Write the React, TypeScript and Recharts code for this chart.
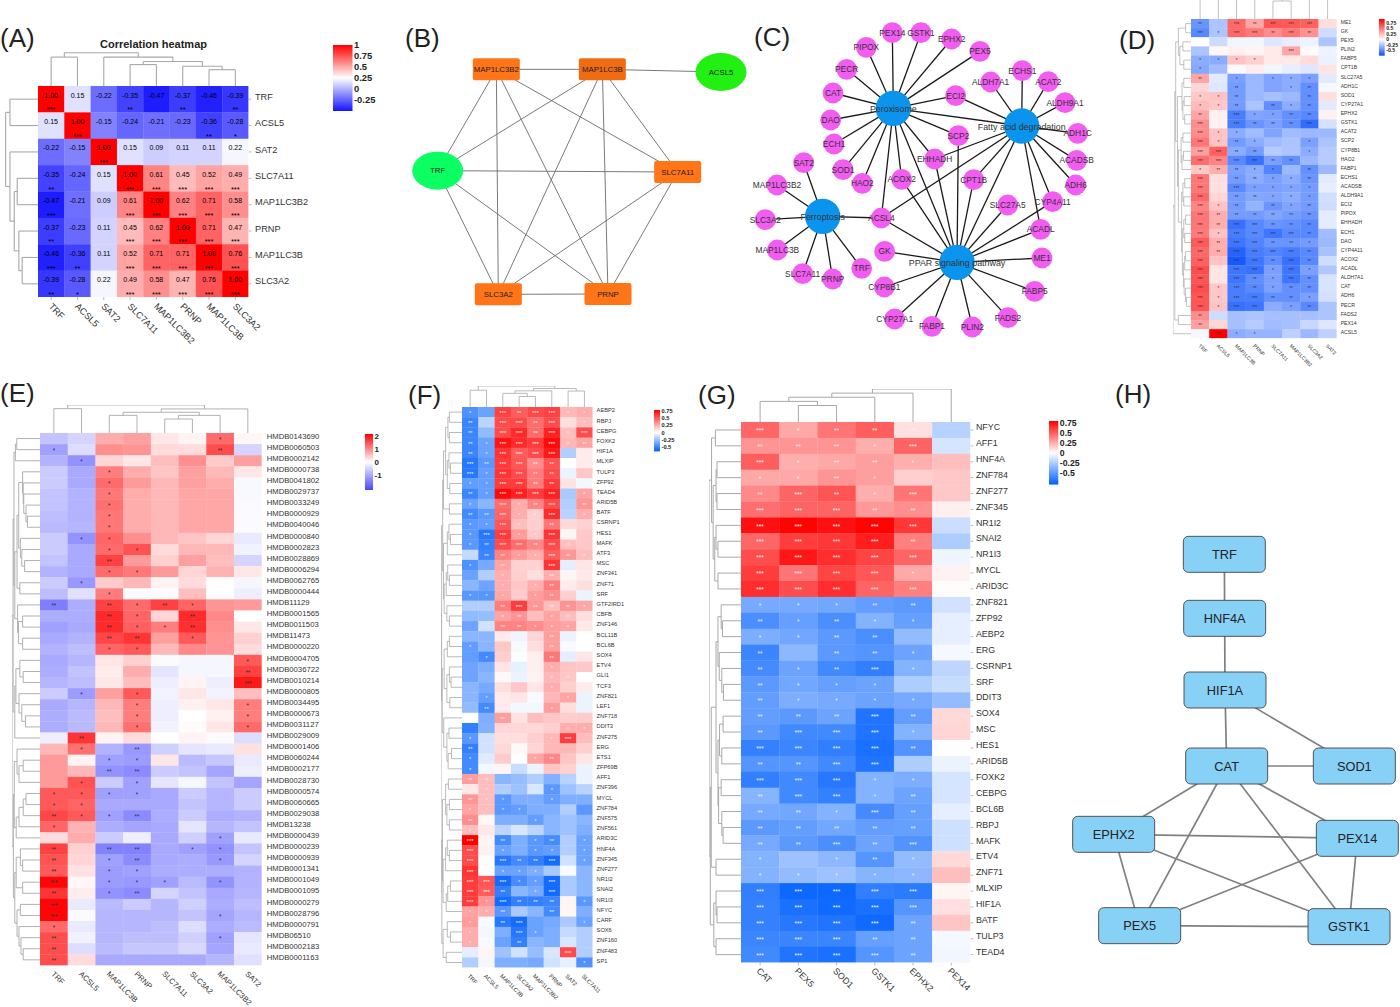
import React from "react";
import {
  ReferenceArea,
  ReferenceLine,
  Scatter,
  ScatterChart,
  XAxis,
  YAxis,
} from "recharts";

// (A) correlation heatmap
const aNames = ["TRF", "ACSL5", "SAT2", "SLC7A11", "MAP1LC3B2", "PRNP", "MAP1LC3B", "SLC3A2"];
const aValues = [
  [1, 0.15, -0.22, -0.35, -0.47, -0.37, -0.46, -0.39],
  [0.15, 1, -0.15, -0.24, -0.21, -0.23, -0.36, -0.28],
  [-0.22, -0.15, 1, 0.15, 0.09, 0.11, 0.11, 0.22],
  [-0.35, -0.24, 0.15, 1, 0.61, 0.45, 0.52, 0.49],
  [-0.47, -0.21, 0.09, 0.61, 1, 0.62, 0.71, 0.58],
  [-0.37, -0.23, 0.11, 0.45, 0.62, 1, 0.71, 0.47],
  [-0.46, -0.36, 0.11, 0.52, 0.71, 0.71, 1, 0.76],
  [-0.39, -0.28, 0.22, 0.49, 0.58, 0.47, 0.76, 1],
];
const aStars = ["30020202", "03000021", "00300000", "20033333", "30033333", "20033333", "32033333", "21033333"];
const aTree = [0.98, [0.85, 0, 1], [0.85, 2, [0.72, [0.63, 3, 4], [0.58, 5, [0.48, 6, 7]]]]];

// (D) ferroptosis genes vs fatty acid genes
const dCols = ["TRF", "ACSL5", "MAP1LC3B", "PRNP", "SLC7A11", "MAP1LC3B2", "SLC3A2", "SAT2"];
const dRows = ["ME1", "GK", "PEX5", "PLIN2", "FABP5", "CPT1B", "SLC27A5", "ADH1C", "SOD1", "CYP27A1", "EPHX2", "GSTK1", "ACAT2", "SCP2", "CYP8B1", "HAO2", "FABP1", "ECHS1", "ACADSB", "ALDH9A1", "ECI2", "PIPOX", "EHHADH", "ECH1", "DAO", "CYP4A11", "ACOX2", "ACADL", "ALDH7A1", "CAT", "ADH6", "PECR", "FADS2", "PEX14", "ACSL5"];
const dValues = [
  [-0.45, -0.25, 0.55, 0.33, 0.62, 0.6, 0.58, 0.12],
  [-0.5, -0.25, 0.55, 0.5, 0.42, 0.5, 0.4, -0.15],
  [0, -0.15, -0.04, -0.04, -0.1, -0.07, -0.05, -0.25],
  [-0.25, 0.03, 0.06, 0.04, 0.08, 0.33, 0.02, -0.05],
  [-0.35, -0.35, 0.22, 0.17, 0.08, 0.08, 0.13, -0.06],
  [-0.37, -0.28, 0.02, 0.07, -0.04, -0.07, -0.1, 0.1],
  [0.33, -0.09, -0.4, -0.3, -0.38, -0.35, -0.4, -0.09],
  [0.15, -0.1, -0.42, -0.3, -0.38, -0.35, -0.47, -0.03],
  [0.2, 0.22, -0.42, -0.3, -0.27, -0.3, -0.47, 0.12],
  [0.25, 0.2, -0.42, -0.25, -0.48, -0.35, -0.47, -0.09],
  [0.33, 0.06, -0.55, -0.38, -0.4, -0.47, -0.5, 0.05],
  [0.42, 0.05, -0.55, -0.45, -0.4, -0.47, -0.62, -0.13],
  [0.42, 0.22, -0.35, -0.28, -0.38, -0.28, -0.3, -0.3],
  [0.5, 0.22, -0.42, -0.35, -0.28, -0.25, -0.4, -0.25],
  [0.35, 0.58, -0.35, -0.42, -0.22, -0.25, -0.35, -0.22],
  [0.53, 0.45, -0.5, -0.6, -0.4, -0.47, -0.3, -0.22],
  [0.2, 0.3, -0.4, -0.35, -0.52, -0.3, -0.47, -0.3],
  [0.5, 0.12, -0.42, -0.35, -0.4, -0.35, -0.45, -0.09],
  [0.5, 0.12, -0.5, -0.4, -0.4, -0.38, -0.42, -0.07],
  [0.55, 0.15, -0.42, -0.37, -0.38, -0.35, -0.42, -0.14],
  [0.45, 0.22, -0.42, -0.32, -0.45, -0.38, -0.42, -0.15],
  [0.5, 0.3, -0.42, -0.42, -0.38, -0.42, -0.45, -0.08],
  [0.5, 0.3, -0.6, -0.5, -0.45, -0.47, -0.5, -0.08],
  [0.48, 0.22, -0.55, -0.5, -0.58, -0.5, -0.5, -0.28],
  [0.6, 0.3, -0.58, -0.52, -0.45, -0.45, -0.42, -0.3],
  [0.55, 0.3, -0.66, -0.55, -0.52, -0.55, -0.5, -0.26],
  [0.58, 0.22, -0.7, -0.58, -0.48, -0.6, -0.5, -0.15],
  [0.65, 0.1, -0.58, -0.6, -0.4, -0.58, -0.4, -0.24],
  [0.62, 0.1, -0.58, -0.48, -0.4, -0.58, -0.47, -0.12],
  [0.65, 0.2, -0.55, -0.5, -0.4, -0.47, -0.47, -0.12],
  [0.62, 0.2, -0.55, -0.55, -0.47, -0.47, -0.4, -0.13],
  [0.62, 0.22, -0.6, -0.58, -0.35, -0.4, -0.5, -0.25],
  [0.42, -0.15, -0.27, -0.25, -0.27, -0.27, -0.27, -0.25],
  [0.35, 0.15, -0.27, -0.22, -0.28, -0.27, -0.17, -0.1],
  [-0.03, 0.93, -0.35, -0.32, -0.32, -0.2, -0.3, -0.2],
];
const dStars = ["20323330", "31332320", "00000000", "00000300", "11110000", "10000000", "20101110", "00200120", "11200020", "11202120", "20311220", "30322230", "31100000", "31210010", "33220010", "33332200", "12211020", "30221120", "30311110", "30221110", "31202120", "32222220", "32332220", "31333320", "32332210", "32333320", "30332320", "30331310", "30321320", "31321220", "31332210", "31330120", "20000000", "20000000", "03110000"];
const dColTree = [1, [0.9, 0, 1], [1, [0.95, [0.9, 2, 3], [0.7, [0.45, 4, 5], 6]], 7]];
const dRowTree = [1, [0.9, [0.85, [0.7, [0.3, 0, 1], [0.62, [0.45, 2, 3], [0.4, 4, 5]]], [0.75, [0.5, [0.4, 6, 7], [0.45, [0.38, 8, 9], [0.35, 10, 11]]], [0.7, [0.55, [0.45, 12, 13], [0.5, [0.42, 14, 15], 16]], [0.52, [0.45, [0.35, 17, 18], [0.4, 19, 20]], [0.48, [0.4, [0.3, 21, 22], [0.35, 23, 24]], [0.42, [0.35, [0.3, 25, 26], 27], [0.38, 28, [0.3, 29, [0.25, 30, 31]]]]]]]]], [0.7, 32, 33]], 34];

// (E) ferroptosis genes vs metabolites
const eCols = ["TRF", "ACSL5", "MAP1LC3B", "PRNP", "SLC7A11", "SLC3A2", "MAP1LC3B2", "SAT2"];
const eRows = ["HMDB0143690", "HMDB0060503", "HMDB0002142", "HMDB0000738", "HMDB0041802", "HMDB0029737", "HMDB0033249", "HMDB0000929", "HMDB0040046", "HMDB0000840", "HMDB0002823", "HMDB0028869", "HMDB0006294", "HMDB0062765", "HMDB0000444", "HMDB11129", "HMDB0001565", "HMDB0011503", "HMDB11473", "HMDB0000220", "HMDB0004705", "HMDB0036722", "HMDB0010214", "HMDB0000805", "HMDB0034495", "HMDB0000673", "HMDB0031127", "HMDB0029009", "HMDB0001406", "HMDB0060244", "HMDB0002177", "HMDB0028730", "HMDB0000574", "HMDB0060665", "HMDB0029038", "HMDB13238", "HMDB0000439", "HMDB0000239", "HMDB0000939", "HMDB0001341", "HMDB0001049", "HMDB0001095", "HMDB0000279", "HMDB0028796", "HMDB0000791", "HMDB06510", "HMDB0002183", "HMDB0001163"];
const eValues = [
  [-0.7, -0.5, 0.7, 0.8, 0.2, 0.1, 1.25, 0.08],
  [-1.1, -0.4, 0.95, 0.9, 0.3, 0.3, 1.5, -0.5],
  [-0.9, -1.25, 0.35, 0.2, 0.55, 0.95, 0.45, 0.8],
  [-0.6, -1, 1.1, 0.7, 0.5, 0.8, 0.6, 0.2],
  [-0.6, -1, 1.25, 0.85, 0.6, 0.8, 0.7, -0.08],
  [-0.7, -0.9, 1.15, 0.7, 0.6, 0.75, 0.75, -0.08],
  [-0.7, -0.9, 1.2, 0.7, 0.6, 0.75, 0.75, -0.07],
  [-0.75, -0.9, 1.15, 0.7, 0.6, 0.75, 0.75, -0.05],
  [-0.8, -0.85, 1.15, 0.7, 0.6, 0.75, 0.75, -0.05],
  [-0.6, -1.25, 1.3, 0.95, 0.6, 0.5, 0.35, -0.25],
  [-0.6, -1, 1.25, 1.45, 0.3, 0.6, 0.6, -0.15],
  [-0.7, -1, 1.6, 0.85, 0.4, 0.8, 0.55, -0.5],
  [-0.9, -1, 1.25, 1.15, 0.85, 0.35, 0.65, 0.2],
  [-0.6, -1.2, 0.45, 0.6, 0.1, 0.3, 0, -0.1],
  [-0.75, -0.35, 1.1, -0.05, -0.03, 0.55, 0, -0.2],
  [-1.5, -0.95, 1.6, 1.25, 1.6, 1.3, 0.9, 0.85],
  [-0.95, -0.95, 1.8, 1.3, 0.35, 1.8, 1, 0],
  [-1.1, -1, 1.8, 1.35, 1.1, 1.75, 0.95, 0.2],
  [-1, -0.9, 1.55, 1.7, 0.8, 1.4, 0.9, 0.4],
  [-0.9, -0.75, 1.3, 1.4, 0.6, 1, 0.9, 0.3],
  [-1, -0.85, 0.2, 0.4, -0.05, -0.1, -0.1, 1.4],
  [-0.95, -0.7, 0.15, 0.7, -0.3, -0.1, -0.1, 1.6],
  [-0.85, -0.75, 0.2, 0.55, -0.2, 0.1, -0.2, 1.95],
  [-0.6, -1.15, 0.8, 1.4, -0.15, 0.2, -0.15, 0.55],
  [-1, -0.85, 0.6, 1.1, -0.2, 0.12, 0.2, 1.1],
  [-0.95, -0.8, 0.55, 1.1, -0.2, 0, 0.12, 1.1],
  [-0.95, -0.8, 0.6, 1.2, -0.15, 0.03, 0.2, 1.25],
  [-0.2, 1.7, 0.1, 0.3, 0, 0.1, -0.05, -0.4],
  [0.6, 1.2, -0.9, -1.2, -0.55, -0.3, -0.25, 0.25],
  [0.85, 0.1, -1.1, -1.15, 0.2, -0.8, -0.65, -0.25],
  [0.85, 0.6, -1.25, -1.35, -0.6, -0.7, -1.05, -0.2],
  [0.85, 1.45, -0.6, -1.1, -0.3, -0.1, -0.7, -1.05],
  [1.4, 1.4, -1.1, -1.1, -1, -0.6, -0.85, -0.6],
  [1.4, 1.3, -1, -1, -1, -0.7, -0.85, -0.6],
  [1.55, 1.4, -1.1, -1.35, -0.95, -0.6, -0.95, -0.9],
  [1.3, 0.65, -0.95, -1.05, -1, -0.3, -0.85, -0.7],
  [0.3, 0.7, -0.6, -0.2, -1, -0.55, -1.1, -0.25],
  [1.6, 0.4, -1.45, -1.45, -1, -1.1, -1.25, -0.7],
  [1.45, 0.35, -1.1, -1.35, -1, -0.95, -1.2, -0.5],
  [1.4, 0.25, -1.15, -1.1, -0.95, -0.95, -0.95, -0.9],
  [2.1, 0.07, -1.15, -1.2, -1.1, -0.8, -1.25, -0.9],
  [1.7, 0.15, -1.25, -1.35, -0.5, -0.7, -1, -0.85],
  [2.1, -0.25, -0.8, -0.6, -0.85, -0.55, -0.95, -0.75],
  [2.1, -0.05, -0.85, -0.85, -0.85, -0.7, -1.05, -0.85],
  [1.25, -0.25, -0.85, -0.85, -0.75, -0.4, -0.95, -0.8],
  [1.5, -0.15, -0.85, -0.75, -0.75, -0.55, -1.1, -0.3],
  [1.5, -0.4, -0.8, -0.65, -0.65, -0.45, -1.05, -0.25],
  [1.5, 0.3, -1, -1, -1, -1, -0.85, -0.35],
];
const eStars = ["00000010", "10000020", "01000000", "00100000", "00100000", "00100000", "00100000", "00100000", "00100000", "01100000", "00110000", "00200000", "00110000", "01000000", "00100000", "20212100", "00210200", "00211200", "00220100", "00110000", "00000001", "00000002", "00000003", "01010000", "00010001", "00010001", "00010001", "02000000", "01020000", "00110000", "00220000", "01010000", "11110000", "11000000", "21120000", "10000000", "00000010", "20220110", "20120010", "20110000", "30111010", "20120000", "30000000", "30000010", "10000000", "20000010", "20000000", "20000000"];
const eColTree = [1, [0.87, 0, 1], [0.86, [0.74, [0.63, 2, 3], [0.63, [0.5, 4, 5], 6]], 7]];
const eRowTree = [1, [0.96, [0.93, [0.88, [0.83, 0, 1], 2], [0.9, [0.82, [0.76, [0.62, 3, [0.6, 4, [0.58, 5, [0.5, 6, [0.45, 7, 8]]]]], [0.7, 9, [0.65, 10, [0.55, 11, 12]]]], [0.72, 13, 14]], [0.8, 15, [0.77, [0.62, 16, 17], [0.62, 18, 19]]]]], [0.9, [0.86, [0.72, 20, [0.6, 21, 22]], [0.75, 23, [0.65, 24, [0.52, 25, 26]]]], 27]], [0.95, [0.92, [0.82, 28, [0.75, [0.6, 29, 30], 31]], [0.85, [0.75, [0.6, [0.5, 32, 33], 34], 35], 36]], [0.9, [0.85, [0.7, 37, [0.62, 38, 39]], [0.62, 40, 41]], [0.82, [0.7, 42, 43], [0.75, 44, [0.68, 45, [0.6, 46, 47]]]]]]];

// (F) ferroptosis genes vs transcription factors
const fCols = ["TRF", "ACSL5", "MAP1LC3B", "SLC3A2", "MAP1LC3B2", "PRNP", "SAT2", "SLC7A11"];
const fRows = ["AEBP2", "RBPJ", "CEBPG", "FOXK2", "HIF1A", "MLXIP", "TULP3", "ZFP92", "TEAD4", "ARID5B", "BATF", "CSRNP1", "HES1", "MAFK", "ATF3", "MSC", "ZNF341", "ZNF71", "SRF", "GTF2IRD1", "CBFB", "ZNF146", "BCL11B", "BCL6B", "SOX4", "ETV4", "GLI1", "TCF3", "ZNF821", "LEF1", "ZNF718", "DDIT3", "ZNF275", "ERG", "ETS1", "ZFP69B", "AFF1", "ZNF396", "MYCL", "ZNF784", "ZNF575", "ZNF561", "ARID3C", "HNF4A", "ZNF345", "ZNF277", "NR1I2", "SNAI2", "NR1I3", "NFYC", "CARF", "SOX6", "ZNF160", "ZNF483", "SP1"];
const fValues = [
  [-0.45, -0.38, 0.58, 0.5, 0.56, 0.58, 0.22, 0.25],
  [-0.5, -0.17, 0.55, 0.55, 0.45, 0.55, 0.1, 0.2],
  [-0.5, -0.28, 0.55, 0.65, 0.45, 0.68, 0.2, 0.55],
  [-0.5, -0.38, 0.72, 0.65, 0.6, 0.75, 0.22, 0.28],
  [-0.5, -0.38, 0.62, 0.5, 0.55, 0.7, -0.2, 0.06],
  [-0.55, -0.42, 0.6, 0.52, 0.35, 0.53, 0, 0.06],
  [-0.55, -0.4, 0.62, 0.55, 0.4, 0.55, -0.05, 0.17],
  [-0.4, -0.4, 0.6, 0.6, 0.4, 0.6, 0.09, -0.03],
  [-0.5, -0.4, 0.75, 0.68, 0.6, 0.68, -0.22, 0.28],
  [-0.38, -0.3, 0.45, 0.25, 0.38, 0.55, -0.2, 0.32],
  [-0.48, -0.42, 0.47, 0.25, 0.15, 0.65, -0.18, 0.25],
  [-0.42, -0.4, 0.52, 0.2, 0.15, 0.42, 0.12, 0.14],
  [-0.42, -0.55, 0.6, 0.3, 0.17, 0.62, 0.03, 0.17],
  [-0.42, -0.52, 0.55, 0.45, 0.37, 0.55, 0.2, 0.17],
  [-0.15, -0.5, 0.38, 0.3, 0.25, 0.5, 0.32, 0.2],
  [-0.45, -0.35, 0.28, 0.14, 0.14, 0.62, -0.07, 0.08],
  [-0.38, -0.2, 0.25, 0.15, 0.1, 0.25, 0.03, 0.07],
  [-0.3, -0.37, 0.25, 0.17, 0.25, 0.4, 0.06, 0.1],
  [-0.42, -0.43, 0.27, 0.16, 0.3, 0.35, 0.15, -0.05],
  [-0.2, -0.2, 0.4, 0.6, 0.32, 0.2, 0.33, 0.27],
  [-0.28, -0.27, 0.28, 0.33, 0.2, 0.28, 0.2, 0.1],
  [-0.37, -0.12, 0.38, 0.38, 0.35, 0.3, 0.28, 0.07],
  [-0.3, -0.3, 0.06, -0.04, 0.13, 0.3, -0.05, 0],
  [-0.4, -0.3, 0.17, -0.02, 0.1, 0.3, -0.02, 0],
  [-0.4, -0.48, 0.15, -0.01, 0.05, 0.42, -0.07, 0.08],
  [-0.37, -0.33, 0.08, -0.06, 0.05, 0.25, 0.18, 0.17],
  [-0.37, -0.3, 0.02, -0.05, 0.04, 0.22, 0.17, 0],
  [-0.3, -0.35, 0.1, 0.17, 0.08, 0.25, 0.15, 0.06],
  [-0.3, -0.4, 0.06, 0.08, -0.02, 0.22, 0.28, -0.05],
  [-0.28, -0.48, 0.06, -0.03, -0.03, 0.3, 0.1, -0.05],
  [0, -0.33, 0.3, 0.09, 0.2, 0.17, 0.15, 0.16],
  [-0.52, -0.32, 0.13, 0.12, 0.12, 0.15, 0.25, 0.25],
  [-0.42, -0.12, 0.1, 0.1, 0.15, 0.22, 0.6, 0.2],
  [-0.52, -0.12, 0.12, 0.02, 0.13, 0.22, 0.22, 0.15],
  [-0.48, -0.08, 0.16, 0, 0.28, 0.37, 0.18, 0.08],
  [-0.48, -0.03, 0.03, -0.14, -0.05, 0.18, 0.14, -0.05],
  [0.3, 0.2, -0.3, -0.27, -0.2, -0.32, -0.18, -0.05],
  [0.07, 0.2, -0.2, -0.25, -0.1, -0.42, -0.25, -0.18],
  [0.32, 0.2, -0.42, -0.33, -0.33, -0.4, -0.33, -0.33],
  [0.28, 0.2, -0.42, -0.4, -0.33, -0.33, -0.2, -0.42],
  [0.35, 0.02, -0.33, -0.33, -0.4, -0.3, -0.25, -0.3],
  [0.2, 0.07, -0.17, -0.1, -0.17, -0.3, -0.25, -0.33],
  [0.78, 0.03, -0.48, -0.33, -0.42, -0.47, -0.2, -0.38],
  [0.55, 0.04, -0.38, -0.33, -0.42, -0.4, -0.2, -0.38],
  [0.55, 0.01, -0.55, -0.48, -0.52, -0.6, -0.12, -0.38],
  [0.62, 0, -0.38, -0.38, -0.33, -0.22, -0.02, -0.3],
  [0.6, 0.52, -0.6, -0.47, -0.4, -0.6, -0.22, -0.3],
  [0.6, 0.5, -0.52, -0.3, -0.35, -0.6, -0.22, -0.3],
  [0.6, 0.33, -0.6, -0.52, -0.52, -0.5, 0.03, -0.42],
  [0.28, 0.25, -0.42, -0.22, -0.3, -0.48, 0.03, -0.33],
  [0.3, -0.02, -0.55, -0.6, -0.38, -0.35, -0.22, -0.38],
  [0.25, -0.03, -0.33, -0.55, -0.38, -0.33, -0.15, -0.2],
  [0.25, -0.02, -0.38, -0.52, -0.3, -0.33, -0.1, -0.2],
  [-0.07, 0.03, -0.25, -0.12, -0.27, -0.1, 0.55, -0.2],
  [-0.2, -0.03, -0.33, -0.33, -0.35, -0.12, -0.06, -0.45],
];
const fStars = ["10323311", "20332301", "20332313", "21333312", "21333300", "32332200", "31332200", "11332200", "21333301", "10312302", "22311301", "11310200", "13311300", "12332310", "02211321", "10200300", "00100200", "00101200", "11101200", "00232221", "00120110", "00221110", "00000200", "10000200", "01000200", "00000100", "00000110", "00000100", "01000010", "02000100", "00200000", "00000011", "10000130", "20000000", "10001200", "10000000", "21000000", "01000100", "21100100", "11110000", "20001000", "10000000", "30201201", "30101101", "30322301", "30111000", "33311300", "33201300", "31322201", "11200200", "10230001", "10031000", "10020000", "00000030", "00000001"];
const fColTree = [1, [0.8, 0, 1], [0.88, [0.77, [0.65, 2, [0.5, 3, 4]], 5], [0.76, 6, 7]]];
const fRowTree = [1, [0.97, [0.92, [0.88, [0.78, [0.67, [0.6, 0, 1], [0.6, 2, 3]], [0.7, [0.62, 4, [0.55, 5, 6]], [0.58, 7, 8]]], [0.6, 9, 10]], [0.88, [0.7, [0.62, 11, [0.55, 12, 13]], 14], [0.85, [0.75, [0.68, 15, [0.6, 16, 17]], 18], [0.72, 19, [0.6, 20, 21]]]]], [0.94, [0.85, [0.7, [0.6, 22, 23], 24], [0.72, [0.6, 25, [0.52, 26, 27]], [0.58, 28, 29]]], [0.87, 30, [0.72, [0.62, 31, 32], [0.66, [0.5, 33, 34], 35]]]]], [0.96, [0.93, [0.78, [0.65, 36, 37], [0.72, [0.6, 38, 39], [0.6, 40, 41]]], [0.9, [0.78, [0.7, 42, [0.6, 43, 44]], 45], [0.75, [0.68, [0.55, 46, 47], 48], 49]]], [0.9, [0.7, 50, [0.55, 51, 52]], [0.75, 53, 54]]]];

// (G) fatty acid genes vs transcription factors
const gCols = ["CAT", "PEX5", "SOD1", "GSTK1", "EPHX2", "PEX14"];
const gRows = ["NFYC", "AFF1", "HNF4A", "ZNF784", "ZNF277", "ZNF345", "NR1I2", "SNAI2", "NR1I3", "MYCL", "ARID3C", "ZNF821", "ZFP92", "AEBP2", "ERG", "CSRNP1", "SRF", "DDIT3", "SOX4", "MSC", "HES1", "ARID5B", "FOXK2", "CEBPG", "BCL6B", "RBPJ", "MAFK", "ETV4", "ZNF71", "MLXIP", "HIF1A", "BATF", "TULP3", "TEAD4"];
const gValues = [
  [0.47, 0.27, 0.43, 0.5, 0.1, -0.22],
  [0.33, 0.33, 0.33, 0.25, 0.48, -0.13],
  [0.5, 0.25, 0.27, 0.3, 0.25, 0.2],
  [0.27, 0.27, 0.33, 0.3, 0.15, 0.17],
  [0.37, 0.48, 0.53, 0.25, 0.43, 0.17],
  [0.45, 0.48, 0.48, 0.32, 0.35, 0.05],
  [0.74, 0.78, 0.74, 0.78, 0.62, -0.16],
  [0.47, 0.6, 0.62, 0.7, 0.4, -0.25],
  [0.55, 0.72, 0.65, 0.58, 0.48, -0.05],
  [0.6, 0.43, 0.58, 0.52, 0.27, 0.04],
  [0.65, 0.55, 0.65, 0.48, 0.4, 0.01],
  [-0.42, -0.42, -0.43, -0.48, -0.5, -0.14],
  [-0.55, -0.47, -0.55, -0.38, -0.47, -0.08],
  [-0.4, -0.43, -0.5, -0.55, -0.33, -0.08],
  [-0.6, -0.35, -0.5, -0.52, -0.45, -0.03],
  [-0.57, -0.45, -0.58, -0.63, -0.38, -0.2],
  [-0.5, -0.43, -0.47, -0.45, -0.25, -0.17],
  [-0.48, -0.4, -0.42, -0.45, -0.42, -0.33],
  [-0.48, -0.5, -0.45, -0.68, -0.48, 0.12],
  [-0.5, -0.58, -0.58, -0.68, -0.38, 0.13],
  [-0.62, -0.6, -0.63, -0.7, -0.53, 0],
  [-0.52, -0.52, -0.58, -0.68, -0.25, -0.06],
  [-0.63, -0.58, -0.66, -0.38, -0.4, -0.13],
  [-0.37, -0.58, -0.62, -0.38, -0.45, -0.13],
  [-0.42, -0.43, -0.38, -0.57, -0.47, -0.08],
  [-0.5, -0.48, -0.43, -0.48, -0.47, -0.15],
  [-0.42, -0.5, -0.55, -0.45, -0.53, -0.15],
  [-0.38, -0.3, -0.35, -0.52, -0.33, 0.12],
  [-0.38, -0.33, -0.3, -0.37, -0.35, 0.2],
  [-0.63, -0.74, -0.74, -0.63, -0.65, 0.03],
  [-0.62, -0.7, -0.73, -0.7, -0.52, 0.1],
  [-0.62, -0.66, -0.68, -0.73, -0.45, 0.18],
  [-0.6, -0.6, -0.6, -0.47, -0.45, -0.03],
  [-0.58, -0.68, -0.7, -0.52, -0.45, -0.04],
];
const gStars = ["312230", "222130", "312210", "112100", "232130", "333220", "333330", "333320", "333330", "333310", "333330", "111220", "212110", "112200", "202210", "212310", "211100", "211110", "222320", "233310", "333320", "223300", "333110", "233120", "221320", "222220", "223230", "101210", "111110", "333330", "333330", "333320", "333220", "333320"];
const gColTree = [1, [0.875, [0.75, [0.625, 0, [0.5, 1, 2]], 3], 4], 5];
const gRowTree = [1, [0.92, [0.8, 0, 1], [0.87, [0.78, [0.75, 2, 3], [0.75, 4, 5]], [0.82, [0.78, 6, [0.72, 7, 8]], [0.72, 9, 10]]]], [0.96, [0.93, [0.78, [0.72, [0.62, 11, [0.58, 12, 13]], [0.68, 14, [0.6, 15, [0.55, 16, 17]]]], [0.72, [0.67, [0.56, 18, 19], [0.6, 20, 21]], [0.7, [0.62, 22, 23], [0.6, 24, [0.56, 25, 26]]]]], [0.78, 27, 28]], [0.85, [0.78, 29, [0.75, 30, 31]], [0.78, 32, 33]]]];

// (B) gene network, coordinates in 3x layout units
const bNames = ["MAP1LC3B2", "MAP1LC3B", "ACSL5", "TRF", "SLC7A11", "SLC3A2", "PRNP"];
const bX = [289, 607, 963, 113, 833, 295, 624];
const bY = [148, 148, 156, 452, 456, 823, 822];
const bEdges = [[0, 1], [1, 2], [0, 3], [0, 5], [0, 6], [0, 4], [1, 3], [1, 5], [1, 6], [1, 4], [3, 4], [3, 5], [3, 6], [4, 5], [4, 6], [5, 6]];

// (C) pathway network
const cHubs = ["Peroxisome", "Fatty acid degradation", "Ferroptosis", "PPAR signaling pathway"];
const cHubX = [460, 845, 248, 651];
const cHubY = [265, 318, 589, 727];
const cGenes = ["PEX14", "GSTK1", "EPHX2", "PEX5", "PIPOX", "PECR", "CAT", "DAO", "ECH1", "SOD1", "HAO2", "ACOX2", "ECI2", "SCP2", "EHHADH", "ALDH7A1", "ECHS1", "ACAT2", "ALDH9A1", "ADH1C", "ACADSB", "ADH6", "CYP4A11", "ACADL", "CPT1B", "SLC27A5", "ACSL4", "SAT2", "MAP1LC3B2", "SLC3A2", "MAP1LC3B", "SLC7A11", "PRNP", "TRF", "GK", "ME1", "FABP5", "FADS2", "PLIN2", "FABP1", "CYP27A1", "CYP8B1"];
const cGeneX = [457, 543, 635, 720, 379, 320, 279, 272, 282, 309, 367, 485, 647, 655, 584, 752, 847, 925, 975, 1013, 1010, 1007, 938, 902, 701, 803, 424, 191, 111, 76, 112, 188, 278, 365, 434, 906, 884, 804, 697, 576, 464, 433];
const cGeneY = [38, 38, 57, 94, 82, 148, 219, 300, 372, 449, 490, 478, 227, 347, 417, 186, 152, 185, 248, 340, 421, 495, 545, 628, 479, 555, 594, 428, 495, 599, 690, 761, 777, 745, 694, 714, 814, 893, 921, 919, 897, 801];
const cPeroxisome = ["PEX14", "GSTK1", "EPHX2", "PEX5", "PIPOX", "PECR", "CAT", "DAO", "ECH1", "SOD1", "HAO2", "ACOX2", "ECI2", "SCP2", "EHHADH", "ACSL4", "Fatty acid degradation", "PPAR signaling pathway"];
const cFatty = ["ECI2", "ALDH7A1", "ECHS1", "ACAT2", "ALDH9A1", "ADH1C", "ACADSB", "ADH6", "CYP4A11", "ACADL", "EHHADH", "CPT1B", "ACSL4", "PPAR signaling pathway"];
const cFerroptosis = ["SAT2", "MAP1LC3B2", "SLC3A2", "MAP1LC3B", "SLC7A11", "PRNP", "TRF", "ACSL4"];
const cPpar = ["ACSL4", "ACOX2", "EHHADH", "SCP2", "CPT1B", "SLC27A5", "CYP4A11", "ACADL", "GK", "ME1", "FABP5", "FADS2", "PLIN2", "FABP1", "CYP27A1", "CYP8B1"];

// (H) hub gene network
const hNames = ["TRF", "HNF4A", "HIF1A", "CAT", "SOD1", "EPHX2", "PEX14", "PEX5", "GSTK1"];
const hX = [523, 524, 525, 530, 913, 191, 922, 269, 897];
const hY = [103, 295, 510, 738, 738, 943, 955, 1217, 1220];
const hEdges = [[0, 1], [1, 2], [2, 3], [2, 4], [3, 4], [3, 5], [3, 7], [3, 8], [3, 6], [5, 6], [5, 7], [5, 8], [6, 7], [6, 8], [7, 8]];

type Ramp = { low: number; mid: number; high: number; lowColor: number[]; highColor: number[] };

const rampA: Ramp = { low: -0.5, mid: 0.25, high: 1, lowColor: [20, 20, 255], highColor: [255, 0, 0] };
const rampD: Ramp = { low: -0.74, mid: 0, high: 0.93, lowColor: [10, 80, 255], highColor: [255, 0, 0] };
const rampE: Ramp = { low: -2.15, mid: 0, high: 2.15, lowColor: [70, 70, 255], highColor: [255, 0, 0] };
const rampF: Ramp = { low: -0.65, mid: 0, high: 0.78, lowColor: [0, 96, 255], highColor: [255, 0, 0] };
const rampG: Ramp = { low: -0.78, mid: 0, high: 0.79, lowColor: [0, 96, 255], highColor: [255, 0, 0] };

function rampColor(v: number, r: Ramp) {
  const target = v >= r.mid ? r.highColor : r.lowColor;
  const end = v >= r.mid ? r.high : r.low;
  const t = Math.min(1, Math.max(0, (v - r.mid) / (end - r.mid)));
  const c = target.map((k) => Math.round(255 + (k - 255) * t));
  return `rgb(${c[0]},${c[1]},${c[2]})`;
}

// walks a [height, left, right] tree into line pieces (position along leaves, height)
function treeSegments(node: any, out: number[][]): { pos: number; h: number } {
  if (typeof node === "number") return { pos: node, h: 0 };
  const a = treeSegments(node[1], out);
  const b = treeSegments(node[2], out);
  const h = node[0];
  out.push([a.pos, h, b.pos, h], [a.pos, a.h, a.pos, h], [b.pos, b.h, b.pos, h]);
  return { pos: (a.pos + b.pos) / 2, h };
}

function segments(tree: any) {
  const out: number[][] = [];
  treeSegments(tree, out);
  return out;
}

interface HeatProps {
  box: number[]; // x0, y0, x1, y1 of the cells
  dl: number;
  dt: number;
  labelW: number;
  labelH: number;
  rows: string[];
  cols: string[];
  values: number[][];
  stars: string[];
  rowTree: any;
  colTree: any;
  ramp: Ramp;
  rowFont: number;
  starFont: number;
  starColor: string;
  starDy?: number;
  showValues?: boolean;
  treeWidth?: number;
  ticks?: boolean;
  colDx: number;
  colDy: number;
  rowDx?: number;
  rowDy: number;
}

function Heatmap(p: HeatProps) {
  const [x0, y0, x1, y1] = p.box;
  const n = p.cols.length;
  const m = p.rows.length;
  const cw = (x1 - x0) / n;
  const ch = (y1 - y0) / m;
  const leftSpan = p.dl / cw;
  const topSpan = p.dt / ch;
  const cells = p.values.flatMap((row, y) =>
    row.map((value, x) => ({ x, y, value, stars: Number(p.stars[y][x]) }))
  );
  const cellShape = (s: any) => {
    const d = s.payload;
    const starY = s.cy + (p.starDy ?? 0) + p.starFont * 0.5;
    return (
      <g>
        <rect
          x={s.cx - cw / 2}
          y={s.cy - ch / 2}
          width={cw + 0.3}
          height={ch + 0.3}
          fill={rampColor(d.value, p.ramp)}
        />
        {p.showValues && (
          <text x={s.cx} y={s.cy - 1.5} fontSize={7} fill="#000" textAnchor="middle">
            {d.value.toFixed(2)}
          </text>
        )}
        {d.stars > 0 && (
          <text x={s.cx} y={starY} fontSize={p.starFont} fill={p.starColor} textAnchor="middle">
            {"*".repeat(d.stars)}
          </text>
        )}
      </g>
    );
  };
  const colTick = (t: any) => {
    const x = t.x + p.colDx;
    const y = t.y + p.colDy;
    return (
      <text x={x} y={y} fontSize={p.rowFont} fill="#333" transform={`rotate(45 ${x} ${y})`}>
        {p.cols[t.payload.value]}
      </text>
    );
  };
  const rowTick = (t: any) => (
    <text x={t.x + (p.rowDx ?? 0)} y={t.y + p.rowFont * 0.36 + p.rowDy} fontSize={p.rowFont} fill="#333">
      {p.rows[t.payload.value]}
    </text>
  );
  const treeStroke = { stroke: "#a8a8a8", strokeWidth: p.treeWidth ?? 1 };
  return (
    <div style={{ position: "absolute", left: x0 - p.dl, top: y0 - p.dt }}>
      <ScatterChart
        width={p.dl + (x1 - x0) + p.labelW}
        height={p.dt + (y1 - y0) + p.labelH}
        margin={{ top: 0, right: 0, bottom: 0, left: 0 }}
      >
        <XAxis
          type="number"
          dataKey="x"
          domain={[-0.5 - leftSpan, n - 0.5]}
          ticks={p.cols.map((_, i) => i)}
          interval={0}
          allowDataOverflow
          height={p.labelH}
          axisLine={false}
          tickLine={p.ticks ? { stroke: "#bbb" } : false}
          tickSize={3}
          tick={colTick}
        />
        <YAxis
          type="number"
          dataKey="y"
          orientation="right"
          reversed
          domain={[-0.5 - topSpan, m - 0.5]}
          ticks={p.rows.map((_, i) => i)}
          interval={0}
          allowDataOverflow
          width={p.labelW}
          axisLine={false}
          tickLine={p.ticks ? { stroke: "#bbb" } : false}
          tickSize={3}
          tick={rowTick}
        />
        {segments(p.colTree).map((s, i) => (
          <ReferenceLine
            key={`c${i}`}
            segment={[
              { x: s[0], y: -0.5 - s[1] * topSpan },
              { x: s[2], y: -0.5 - s[3] * topSpan },
            ]}
            {...treeStroke}
          />
        ))}
        {segments(p.rowTree).map((s, i) => (
          <ReferenceLine
            key={`r${i}`}
            segment={[
              { x: -0.5 - s[1] * leftSpan, y: s[0] },
              { x: -0.5 - s[3] * leftSpan, y: s[2] },
            ]}
            {...treeStroke}
          />
        ))}
        <Scatter data={cells} shape={cellShape} isAnimationActive={false} />
      </ScatterChart>
    </div>
  );
}

function ColorBar(p: {
  id: string;
  box: number[];
  ramp: Ramp;
  ticks: number[];
  fontSize: number;
}) {
  const [x0, y0, x1, y1] = p.box;
  const r = p.ramp;
  const stopAt = (v: number) => `${((r.high - v) / (r.high - r.low)) * 100}%`;
  const tick = (t: any) => (
    <text x={t.x - 2.5} y={t.y + p.fontSize * 0.36} fontSize={p.fontSize} fontWeight="bold" fill="#222">
      {t.payload.value}
    </text>
  );
  return (
    <div style={{ position: "absolute", left: x0, top: y0 - 6 }}>
      <ScatterChart
        width={x1 - x0 + 30}
        height={y1 - y0 + 12}
        margin={{ top: 6, right: 0, bottom: 6, left: 0 }}
      >
        <defs>
          <linearGradient id={p.id} x1="0" y1="0" x2="0" y2="1">
            <stop offset={stopAt(r.high)} stopColor={rampColor(r.high, r)} />
            <stop offset={stopAt(r.mid)} stopColor="#ffffff" />
            <stop offset={stopAt(r.low)} stopColor={rampColor(r.low, r)} />
          </linearGradient>
        </defs>
        <XAxis type="number" dataKey="x" domain={[0, 1]} hide />
        <YAxis
          type="number"
          dataKey="y"
          orientation="right"
          domain={[r.low, r.high]}
          ticks={p.ticks}
          interval={0}
          allowDataOverflow
          width={30}
          axisLine={false}
          tickLine={false}
          tickSize={2}
          tick={tick}
        />
        <ReferenceArea x1={0} x2={1} y1={r.low} y2={r.high} fill={`url(#${p.id})`} fillOpacity={1} stroke="none" />
        <Scatter data={[{ x: 0, y: r.low }]} shape={() => <g />} isAnimationActive={false} />
      </ScatterChart>
    </div>
  );
}

function Network(p: {
  box: number[];
  nodes: any[];
  edges: number[][][];
  edgeStroke: string;
  edgeWidth: number;
  shape: (s: any) => React.ReactElement;
}) {
  const [left, top, w, h] = p.box;
  return (
    <div style={{ position: "absolute", left, top }}>
      <ScatterChart width={w} height={h} margin={{ top: 0, right: 0, bottom: 0, left: 0 }}>
        <XAxis type="number" dataKey="x" domain={[0, w * 3]} hide />
        <YAxis type="number" dataKey="y" domain={[0, h * 3]} reversed hide />
        {p.edges.map((e, i) => (
          <ReferenceLine
            key={i}
            segment={[
              { x: e[0][0], y: e[0][1] },
              { x: e[1][0], y: e[1][1] },
            ]}
            stroke={p.edgeStroke}
            strokeWidth={p.edgeWidth}
          />
        ))}
        <Scatter data={p.nodes} shape={p.shape} isAnimationActive={false} />
      </ScatterChart>
    </div>
  );
}

const toNodes = (names: string[], xs: number[], ys: number[]) =>
  names.map((name, i) => ({ name, x: xs[i], y: ys[i] }));

const bNodes = toNodes(bNames, bX, bY);
const bLinks = bEdges.map((e) => [[bX[e[0]], bY[e[0]]], [bX[e[1]], bY[e[1]]]]);

const bColors: Record<string, string> = { MAP1LC3B: "#f06c12", ACSL5: "#22f012", TRF: "#0cff62" };

function bShape(s: any) {
  const name = s.payload.name;
  const oval = name === "ACSL5" || name === "TRF";
  return (
    <g>
      {oval ? (
        <ellipse cx={s.cx} cy={s.cy} rx={25.5} ry={19} fill={bColors[name]} />
      ) : (
        <rect x={s.cx - 23.5} y={s.cy - 11} width={47} height={22} rx={2} fill={bColors[name] ?? "#ff7518"} />
      )}
      <text x={s.cx} y={s.cy + 2.8} fontSize={7.8} fill="#222" textAnchor="middle">
        {name}
      </text>
    </g>
  );
}

const cNodes = [
  ...toNodes(cHubs, cHubX, cHubY).map((d) => ({ ...d, hub: true })),
  ...toNodes(cGenes, cGeneX, cGeneY).map((d) => ({ ...d, hub: false })),
];

function cPoint(name: string) {
  const d = cNodes.find((k) => k.name === name);
  return [d.x, d.y];
}

const cLinks = [
  ...cPeroxisome.map((g) => [cPoint("Peroxisome"), cPoint(g)]),
  ...cFatty.map((g) => [cPoint("Fatty acid degradation"), cPoint(g)]),
  ...cFerroptosis.map((g) => [cPoint("Ferroptosis"), cPoint(g)]),
  ...cPpar.map((g) => [cPoint("PPAR signaling pathway"), cPoint(g)]),
];

function cShape(s: any) {
  const hub = s.payload.hub;
  return (
    <g>
      <circle cx={s.cx} cy={s.cy} r={hub ? 17.7 : 10.4} fill={hub ? "#0a94ee" : "#f25cf0"} />
      <text x={s.cx} y={s.cy + (hub ? 4 : 3)} fontSize={hub ? 8.9 : 8.4} fill="#333" textAnchor="middle">
        {s.payload.name}
      </text>
    </g>
  );
}

const hNodes = toNodes(hNames, hX, hY);
const hLinks = hEdges.map((e) => [[hX[e[0]], hY[e[0]]], [hX[e[1]], hY[e[1]]]]);

function hShape(s: any) {
  return (
    <g>
      <rect
        x={s.cx - 41}
        y={s.cy - 18}
        width={82}
        height={36}
        rx={5}
        fill="#88d1f6"
        stroke="#444"
        strokeWidth={0.9}
      />
      <text x={s.cx} y={s.cy + 4.6} fontSize={12.8} fill="#222" textAnchor="middle">
        {s.payload.name}
      </text>
    </g>
  );
}

const panelLetters: [string, number, number][] = [
  ["(A)", 0, 23],
  ["(B)", 405, 23],
  ["(C)", 754, 22],
  ["(D)", 1119, 25],
  ["(E)", 0, 378],
  ["(F)", 408, 380],
  ["(G)", 698, 380],
  ["(H)", 1115, 379],
];

export default function App() {
  return (
    <div
      style={{
        position: "absolute",
        left: 0,
        top: 0,
        width: 1400,
        height: 1007,
        overflow: "hidden",
        background: "#fff",
        fontFamily: "'Liberation Sans', Arial, sans-serif",
      }}
    >
      <Network box={[400, 20, 350, 330]} nodes={bNodes} edges={bLinks} edgeStroke="#6a6a6a" edgeWidth={0.9} shape={bShape} />
      <Network box={[740, 20, 370, 330]} nodes={cNodes} edges={cLinks} edgeStroke="#1a1a1a" edgeWidth={1.3} shape={cShape} />
      <Network box={[1050, 520, 350, 460]} nodes={hNodes} edges={hLinks} edgeStroke="#808080" edgeWidth={1.7} shape={hShape} />

      <Heatmap
        box={[38, 86, 248.5, 297]}
        dl={33}
        dt={34}
        labelW={70}
        labelH={55}
        rows={aNames}
        cols={aNames}
        values={aValues}
        stars={aStars}
        rowTree={aTree}
        colTree={aTree}
        ramp={rampA}
        rowFont={9.2}
        starFont={7.5}
        starColor="#000"
        starDy={9.5}
        showValues
        treeWidth={1.1}
        ticks
        colDx={-3}
        colDy={5}
        rowDx={1.5}
        rowDy={-2.7}
      />
      <ColorBar id="barA" box={[333, 45, 352.5, 111]} ramp={rampA} ticks={[1, 0.75, 0.5, 0.25, 0, -0.25]} fontSize={9.4} />

      <Heatmap
        box={[1191, 19, 1336.7, 338.3]}
        dl={18}
        dt={40}
        labelW={40}
        labelH={32}
        rows={dRows}
        cols={dCols}
        values={dValues}
        stars={dStars}
        rowTree={dRowTree}
        colTree={dColTree}
        ramp={rampD}
        rowFont={5.1}
        starFont={4.6}
        starColor="#333"
        treeWidth={0.7}
        colDx={-2}
        colDy={3}
        rowDx={-1}
        rowDy={-1.6}
      />
      <ColorBar id="barD" box={[1379.3, 19.3, 1385, 56]} ramp={rampD} ticks={[0.75, 0.5, 0.25, 0, -0.25, -0.5]} fontSize={5.2} />

      <Heatmap
        box={[40, 433.3, 261.7, 965.7]}
        dl={28}
        dt={28}
        labelW={78}
        labelH={48}
        rows={eRows}
        cols={eCols}
        values={eValues}
        stars={eStars}
        rowTree={eRowTree}
        colTree={eColTree}
        ramp={rampE}
        rowFont={7.7}
        starFont={6.3}
        starColor="#333"
        treeWidth={0.9}
        colDx={-3}
        colDy={4}
        rowDy={-2.6}
      />
      <ColorBar id="barE" box={[365.3, 434, 373.3, 490]} ramp={rampE} ticks={[2, 1, 0, -1]} fontSize={8} />

      <Heatmap
        box={[461.7, 406.7, 592.3, 967.3]}
        dl={21}
        dt={21}
        labelW={40}
        labelH={38}
        rows={fRows}
        cols={fCols}
        values={fValues}
        stars={fStars}
        rowTree={fRowTree}
        colTree={fColTree}
        ramp={rampF}
        rowFont={5.7}
        starFont={5.7}
        starColor="#f2f2f2"
        treeWidth={0.8}
        colDx={-3}
        colDy={4}
        rowDx={-1}
        rowDy={-1.8}
      />
      <ColorBar id="barF" box={[654.3, 410.3, 660.3, 451.7]} ramp={rampF} ticks={[0.75, 0.5, 0.25, 0, -0.25, -0.5]} fontSize={5.7} />

      <Heatmap
        box={[741.3, 421.7, 970.7, 962.3]}
        dl={32}
        dt={33}
        labelW={50}
        labelH={44}
        rows={gRows}
        cols={gCols}
        values={gValues}
        stars={gStars}
        rowTree={gRowTree}
        colTree={gColTree}
        ramp={rampG}
        rowFont={8.9}
        starFont={6.5}
        starColor="#f4f4f4"
        treeWidth={1}
        ticks
        colDx={-4}
        colDy={4}
        rowDx={0.5}
        rowDy={-3}
      />
      <ColorBar id="barG" box={[1049, 420.7, 1058.3, 484.3]} ramp={rampG} ticks={[0.75, 0.5, 0.25, 0, -0.25, -0.5]} fontSize={8.7} />

      <div
        style={{
          position: "absolute",
          left: 100,
          top: 37,
          fontSize: 11,
          lineHeight: "14px",
          fontWeight: "bold",
          color: "#222",
        }}
      >
        Correlation heatmap
      </div>
      {panelLetters.map(([t, x, y]) => (
        <div
          key={t}
          style={{ position: "absolute", left: x, top: y, fontSize: 26, lineHeight: "30px", color: "#222" }}
        >
          {t}
        </div>
      ))}
    </div>
  );
}
